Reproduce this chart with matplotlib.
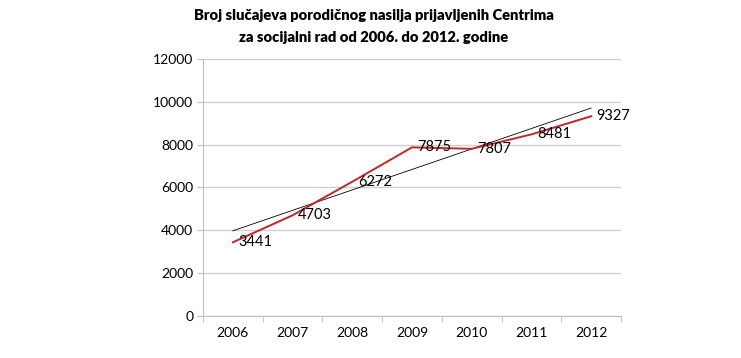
import numpy as np
import matplotlib.pyplot as plt

plt.rcParams['font.family'] = ['Lato', 'DejaVu Sans']

godine = ['2006', '2007', '2008', '2009', '2010', '2011', '2012']
slucajevi = [3441, 4703, 6272, 7875, 7807, 8481, 9327]

fig = plt.figure(figsize=(7.41, 3.58), dpi=100)
ax = fig.add_axes([203 / 741, 1 - 316 / 358, 418 / 741, 257 / 358])

x = np.arange(len(godine))
ax.plot(x, slucajevi, color='#c0282d', lw=1.4, zorder=3)

# linearni trend
k, n = np.polyfit(x, slucajevi, 1)
ax.plot(x, k * x + n, color='black', lw=0.6, zorder=2)

for xi, v in zip(x, slucajevi):
    ax.annotate(str(v), (xi, v), xytext=(4, 0), textcoords='offset points',
                ha='left', va='center', fontsize=10.5, zorder=4)

ax.set_xlim(-0.5, len(godine) - 0.5)
ax.set_ylim(0, 12000)
ax.set_yticks(range(0, 12001, 2000))
ax.set_xticks(x)
ax.set_xticklabels(godine)
ax.set_xticks(np.arange(-0.5, len(godine)), minor=True)
ax.tick_params(axis='x', which='major', length=0, pad=8, labelsize=10)
ax.tick_params(axis='x', which='minor', length=4, color='#bfbfbf')
ax.tick_params(axis='y', length=4, color='#bfbfbf', labelsize=10, pad=3)

ax.grid(axis='y', color='#d0d0d0', lw=1)
ax.set_axisbelow(True)
for s in ['top', 'right']:
    ax.spines[s].set_visible(False)
for s in ['left', 'bottom']:
    ax.spines[s].set_color('#bfbfbf')

fig.text(374 / 741, 0.975, 'Broj slučajeva porodičnog nasilja prijavljenih Centrima\n'
         'za socijalni rad od 2006. do 2012. godine',
         ha='center', va='top', fontsize=10.6, fontweight='heavy', linespacing=1.85)

fig.savefig('out.png', dpi=100)
